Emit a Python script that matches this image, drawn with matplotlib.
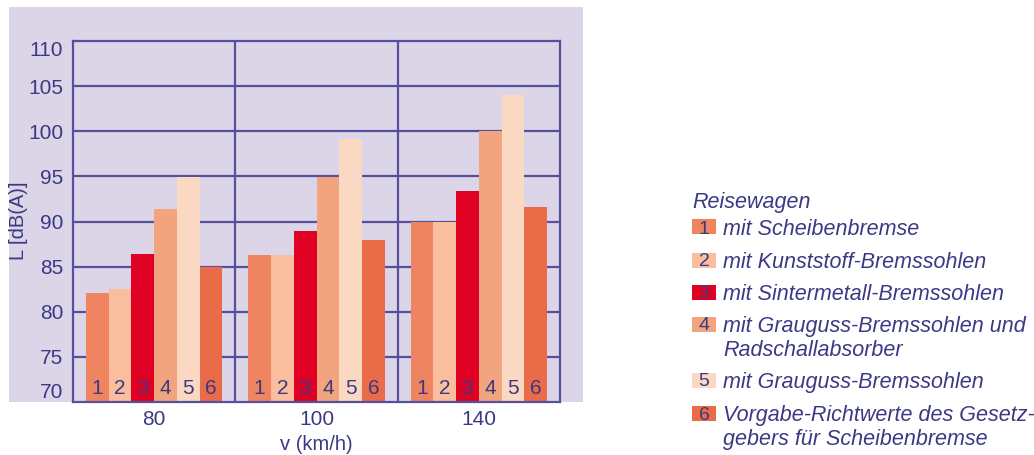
import matplotlib
matplotlib.use("Agg")
import matplotlib.pyplot as plt
from matplotlib.patches import Rectangle
import numpy as np

# ---- data ----
speeds = ["80", "100", "140"]
series_ids = ["1", "2", "3", "4", "5", "6"]
values = {
    "1": [82.1, 86.3, 90.0],
    "2": [82.5, 86.3, 90.0],
    "3": [86.4, 89.0, 93.4],
    "4": [91.4, 94.9, 100.0],
    "5": [94.9, 99.1, 104.0],
    "6": [85.0, 88.0, 91.6],
}
legend_labels = [
    ["mit Scheibenbremse"],
    ["mit Kunststoff-Bremssohlen"],
    ["mit Sintermetall-Bremssohlen"],
    ["mit Grauguss-Bremssohlen und", "Radschallabsorber"],
    ["mit Grauguss-Bremssohlen"],
    ["Vorgabe-Richtwerte des Gesetz-", "gebers für Scheibenbremse"],
]
legend_title = "Reisewagen"
yticks = [70, 75, 80, 85, 90, 95, 100, 105, 110]

colors = ["#EE8560", "#F8BE9E", "#E00024", "#F2A47E", "#FBD8C1", "#E96B48"]
bg = "#DCD5E7"
line_c = "#55509E"
text_c = "#3B3984"

plt.rcParams["font.family"] = ["Liberation Sans", "DejaVu Sans"]

W, H = 1034, 455
fig = plt.figure(figsize=(W / 100, H / 100), dpi=100)

# lavender panel
fig.patches.append(Rectangle((9 / W, 1 - 402 / H), 574 / W, 395 / H,
                             transform=fig.transFigure, facecolor=bg,
                             edgecolor="none", zorder=-10))

ax = fig.add_axes([73 / W, 1 - 402 / H, (560 - 73) / W, (402 - 41) / H])
ax.set_facecolor(bg)

x = np.arange(len(speeds))
bw = 0.14
n = len(series_ids)
for i, sid in enumerate(series_ids):
    pos = x + (i - (n - 1) / 2) * bw
    ax.bar(pos, np.array(values[sid]) - 70, bottom=70, width=bw,
           color=colors[i], zorder=3, linewidth=0)
    for p in pos:
        ax.annotate(sid, xy=(p, 70), xytext=(0, 3), textcoords="offset points",
                    ha="center", va="bottom", fontsize=15, color=text_c, zorder=4)

ax.set_xlim(-0.5, 2.5)
ax.set_ylim(70, 110)
ax.set_yticks(yticks)
ax.set_yticklabels([str(t) for t in yticks])
ax.set_xticks(x)
ax.set_xticklabels(speeds)
ax.tick_params(axis="both", length=0, labelsize=15, labelcolor=text_c)
ax.tick_params(axis="y", pad=7)
ax.tick_params(axis="x", pad=6)
tl = ax.get_yticklabels()
tl[0].set_va("bottom")
tl[-1].set_va("top")

for yv in yticks[1:-1]:
    ax.axhline(yv, color=line_c, lw=1.6, zorder=1)
for xv in [0.5, 1.5]:
    ax.axvline(xv, color=line_c, lw=1.6, zorder=1)
for s in ax.spines.values():
    s.set_color(line_c)
    s.set_linewidth(1.6)
    s.set_zorder(5)

ax.set_xlabel("v (km/h)", fontsize=14.5, color=text_c, labelpad=4)
fig.text(18 / W, 1 - 221 / H, "L [dB(A)]", rotation=90, ha="center",
         va="center", fontsize=14.5, color=text_c)

# ---- legend ----
fig.text(692 / W, 1 - 200 / H, legend_title, fontsize=15.5, style="italic",
         color=text_c, ha="left", va="center_baseline")
item_y = [227, 260, 292, 324, 380, 413]
for i, (lines, yy) in enumerate(zip(legend_labels, item_y)):
    fig.patches.append(Rectangle((692 / W, 1 - (yy + 7.5) / H), 24 / W, 15 / H,
                                 transform=fig.transFigure, facecolor=colors[i],
                                 edgecolor="none"))
    fig.text(704 / W, 1 - yy / H, series_ids[i], fontsize=14, color=text_c,
             ha="center", va="center_baseline")
    for k, ln in enumerate(lines):
        fig.text(723 / W, 1 - (yy + 24 * k) / H, ln, fontsize=15.5,
                 style="italic", color=text_c, ha="left",
                 va="center_baseline")

fig.savefig("out.png", dpi=100)
